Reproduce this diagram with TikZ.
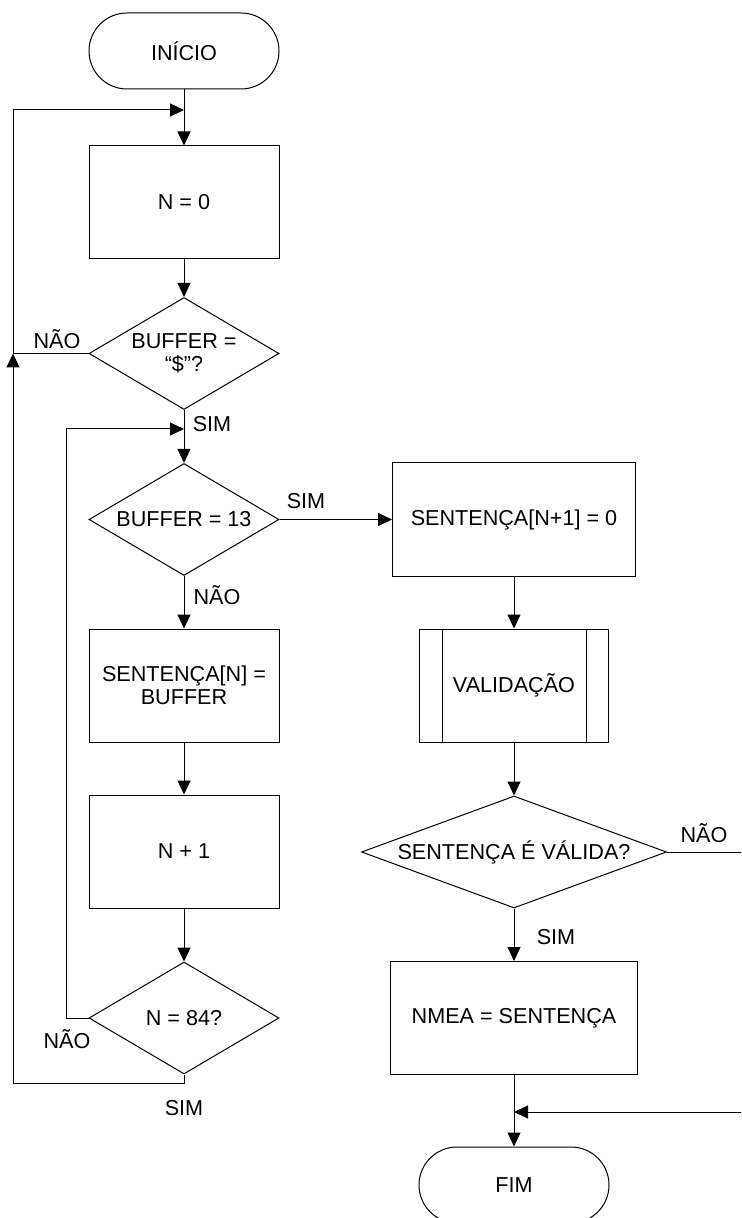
\documentclass[tikz,border=0pt]{standalone}
\usepackage{fontspec}
\setmainfont{Liberation Sans}
\usetikzlibrary{shapes.geometric}
\usetikzlibrary{arrows.meta}

\begin{document}
\begin{tikzpicture}[x=0.5pt,y=-0.5pt,line width=0.5pt,
font=\fontsize{10.8}{11.5}\selectfont,
flow/.style={-{Triangle[length=7pt,width=6.5pt]}},
proc/.style={draw,rectangle,minimum width=95pt,minimum height=56.5pt,
align=center,inner sep=0pt},
term/.style={draw,rectangle,rounded corners=19pt,minimum width=95pt,
minimum height=38pt},
decis/.style={draw,diamond,aspect=1.7,minimum width=95pt,
minimum height=56pt,inner sep=0pt,align=center}]
\clip (0,0) rectangle (741,1218);
\node[term] (inicio) at (184,51) {INÍCIO};
\node[proc] (zero) at (184,202.5) {N = 0};
\node[decis] (dollar) at (184,353.5) {BUFFER =\\“\$”?};
\node[decis] (buf13) at (184,519.5) {BUFFER = 13};
\node[proc] (sentN) at (184,685.5) {SENTENÇA[N] =\\BUFFER};
\node[proc] (inc) at (184,851.5) {N + 1};
\node[decis] (n84) at (184,1018) {N = 84?};
\node[proc,minimum width=121.5pt] (sent0) at (514,519.5) {SENTENÇA[N+1] = 0};
\node[proc,minimum width=94.5pt] (valid) at (514,685.5) {VALIDAÇÃO};
\node[decis,aspect=2.7,minimum width=152.5pt] (ok) at (514,852) {SENTENÇA É VÁLIDA?};
\node[proc,minimum width=123.5pt] (nmea) at (514,1018) {NMEA = SENTENÇA};
\node[term] (fim) at (514,1185) {FIM};
\node (naoA) at (57,339) {NÃO};
\node (simA) at (212,424) {SIM};
\node (simB) at (306,501) {SIM};
\node (naoB) at (217,595) {NÃO};
\node (naoC) at (67,1039) {NÃO};
\node (simC) at (184,1108) {SIM};
\node (simD) at (556,937) {SIM};
\node (naoD) at (704,833) {NÃO};
\coordinate (topA) at (184,110);
\coordinate (topB) at (184,429);
\coordinate (sideA) at (13,353.5);
\coordinate (sideB) at (66,1018);
\coordinate (baseA) at (184,1083);
\coordinate (joinF) at (514,1112);
\coordinate (edgeA) at (760,852);
\draw[flow] (inicio) -- (zero);
\draw[flow] (zero) -- (dollar);
\draw (dollar) -- (sideA);
\draw[flow] (dollar) -- (buf13);
\draw[flow] (buf13) -- (sentN);
\draw[flow] (buf13) -- (sent0);
\draw[flow] (sentN) -- (inc);
\draw[flow] (inc) -- (n84);
\draw[flow] (n84.west) -- (sideB) |- (topB);
\draw[flow] (n84.south) -- (baseA) -| (sideA);
\draw[flow] (sideA) |- (topA);
\draw[flow] (sent0) -- (valid);
\draw[flow] (valid) -- (ok);
\draw[flow] (ok) -- (nmea);
\draw[flow] (nmea) -- (fim);
\draw (ok.east) -- (edgeA);
\draw[flow] (edgeA) |- (joinF);
\draw ([xshift=11.5pt]valid.north west) -- ([xshift=11.5pt]valid.south west);
\draw ([xshift=-11.5pt]valid.north east) -- ([xshift=-11.5pt]valid.south east);
\end{tikzpicture}
\end{document}
